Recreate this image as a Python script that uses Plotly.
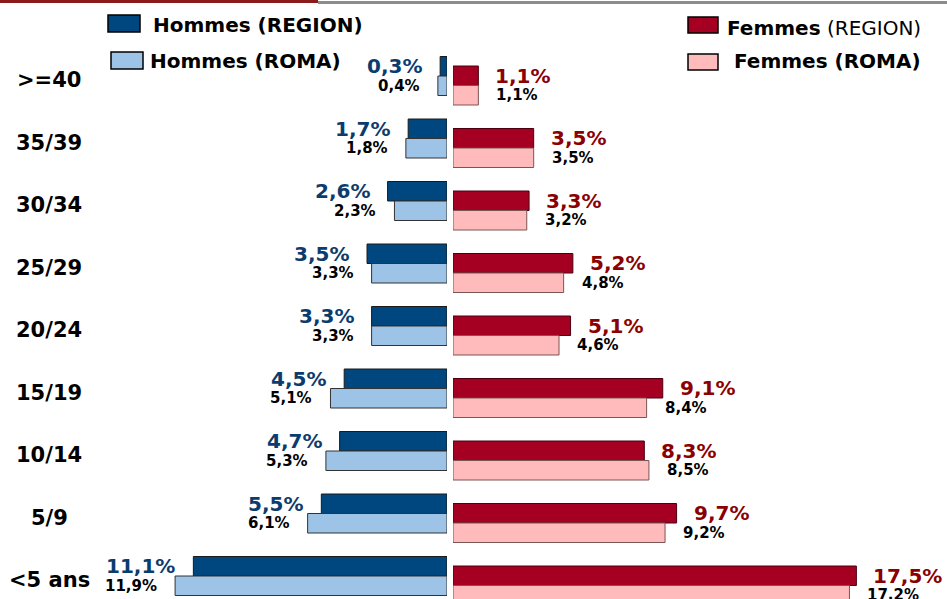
import plotly.graph_objects as go

# Data (top to bottom)
categories = [">=40", "35/39", "30/34", "25/29", "20/24", "15/19", "10/14", "5/9", "<5 ans"]
hommes_region = [0.3, 1.7, 2.6, 3.5, 3.3, 4.5, 4.7, 5.5, 11.1]
hommes_roma = [0.4, 1.8, 2.3, 3.3, 3.3, 5.1, 5.3, 6.1, 11.9]
femmes_region = [1.1, 3.5, 3.3, 5.2, 5.1, 9.1, 8.3, 9.7, 17.5]
femmes_roma = [1.1, 3.5, 3.2, 4.8, 4.6, 8.4, 8.5, 9.2, 17.2]

W, H = 947, 599
FONT = "DejaVu Sans"

C_HR = "#00467F"
C_HM = "#9DC3E6"
C_FR = "#A50021"
C_FM = "#FFBBBB"
C_LBL_H = "#0B3C6E"
C_LBL_F = "#8B0000"


def fmt(v):
    return f"{v:.1f}".replace(".", ",") + "%"


fig = go.Figure()

fig.add_trace(go.Bar(y=categories, x=hommes_region, orientation="h", name="Hommes (REGION)",
                     marker=dict(color=C_HR, line=dict(color="#1a1a1a", width=1)),
                     xaxis="x", yaxis="y", showlegend=False))
fig.add_trace(go.Bar(y=categories, x=hommes_roma, orientation="h", name="Hommes (ROMA)",
                     marker=dict(color=C_HM, line=dict(color="#333333", width=1)),
                     xaxis="x", yaxis="y", showlegend=False))
fig.add_trace(go.Bar(y=categories, x=femmes_region, orientation="h", name="Femmes (REGION)",
                     marker=dict(color=C_FR, line=dict(color="#4a0010", width=1)),
                     xaxis="x2", yaxis="y2", showlegend=False))
fig.add_trace(go.Bar(y=categories, x=femmes_roma, orientation="h", name="Femmes (ROMA)",
                     marker=dict(color=C_FM, line=dict(color="#7a5555", width=1)),
                     xaxis="x2", yaxis="y2", showlegend=False))

left_edge = 447
right_edge = 453
scale_l = 22.85
scale_r = 23.05
cat_px = 62.5
ylen = H / cat_px
top_l = -76 / cat_px
top_r = -85.5 / cat_px

axis_common = dict(showgrid=False, zeroline=False, showticklabels=False, ticks="",
                   showline=False, fixedrange=True)

fig.update_layout(
    width=W, height=H,
    margin=dict(l=0, r=0, t=0, b=0),
    paper_bgcolor="white", plot_bgcolor="rgba(0,0,0,0)",
    barmode="group", bargap=0.376, bargroupgap=0,
    xaxis=dict(domain=[0, left_edge / W], range=[left_edge / scale_l, 0], **axis_common),
    xaxis2=dict(domain=[right_edge / W, 1], range=[0, (W - right_edge) / scale_r], **axis_common),
    yaxis=dict(domain=[0, 1], type="category", categoryorder="array", categoryarray=categories,
               range=[top_l + ylen, top_l], anchor="x", **axis_common),
    yaxis2=dict(domain=[0, 1], type="category", categoryorder="array", categoryarray=categories,
                range=[top_r + ylen, top_r], anchor="x2", **axis_common),
    font=dict(family=FONT),
)

ann = []
shift = 0.156 * cat_px
for i, c in enumerate(categories):
    ann.append(dict(x=49 / W, xref="paper", y=c, yref="y", yshift=-4, text=c, showarrow=False,
                    xanchor="center", yanchor="middle",
                    font=dict(family=FONT, size=21, color="black", weight="bold")))
    ann.append(dict(x=hommes_region[i], xref="x", y=c, yref="y", yshift=shift, xshift=-16,
                    text=fmt(hommes_region[i]), showarrow=False, xanchor="right", yanchor="middle",
                    font=dict(family=FONT, size=20, color=C_LBL_H, weight="bold")))
    ann.append(dict(x=hommes_roma[i], xref="x", y=c, yref="y", yshift=-shift, xshift=-16,
                    text=fmt(hommes_roma[i]), showarrow=False, xanchor="right", yanchor="middle",
                    font=dict(family=FONT, size=15, color="black", weight="bold")))
    ann.append(dict(x=femmes_region[i], xref="x2", y=c, yref="y2", yshift=shift, xshift=15,
                    text=fmt(femmes_region[i]), showarrow=False, xanchor="left", yanchor="middle",
                    font=dict(family=FONT, size=20, color=C_LBL_F, weight="bold")))
    ann.append(dict(x=femmes_roma[i], xref="x2", y=c, yref="y2", yshift=-shift, xshift=16,
                    text=fmt(femmes_roma[i]), showarrow=False, xanchor="left", yanchor="middle",
                    font=dict(family=FONT, size=15, color="black", weight="bold")))


def py(p):
    return 1 - p / H


def px(p):
    return p / W


# Legend (custom)
legend_items = [
    ("<b>Hommes (REGION)</b>", C_HR, (108, 15, 140, 32), 151, 25),
    ("<b>Hommes (ROMA)</b>", C_HM, (111, 52, 143, 69), 148, 61),
    ("<b>Femmes</b> (REGION)", C_FR, (688, 17, 718, 33), 725, 28),
    ("<b>Femmes (ROMA)</b>", C_FM, (688, 54, 718, 70), 732, 61),
]
shapes = []
for text, col, (x0, y0, x1, y1), tx, ty in legend_items:
    shapes.append(dict(type="rect", xref="paper", yref="paper", x0=px(x0), x1=px(x1),
                       y0=py(y1), y1=py(y0), fillcolor=col, line=dict(color="black", width=1.5)))
    ann.append(dict(x=px(tx), y=py(ty), xref="paper", yref="paper", text=text, showarrow=False,
                    xanchor="left", yanchor="middle",
                    font=dict(family=FONT, size=20, color="black")))

# Top rule
shapes.append(dict(type="rect", xref="paper", yref="paper", x0=px(318), x1=1, y0=py(4), y1=py(1),
                   fillcolor="#8c8c8c", line=dict(width=0)))
shapes.append(dict(type="rect", xref="paper", yref="paper", x0=0, x1=px(318), y0=py(3), y1=1,
                   fillcolor="#8B1A1A", line=dict(width=0)))

fig.update_layout(annotations=ann, shapes=shapes)

fig.write_html("out.html", config={"displayModeBar": False},
               post_script="document.body.style.margin='0';document.body.style.overflow='hidden';")
